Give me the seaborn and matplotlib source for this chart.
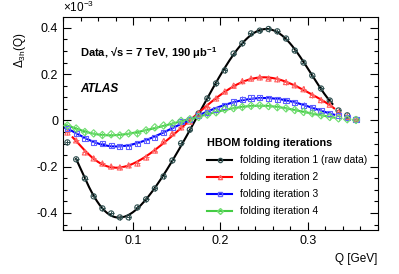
import numpy as np
import pandas as pd
import seaborn as sns
import matplotlib.pyplot as plt
from matplotlib.lines import Line2D
from matplotlib.ticker import MultipleLocator

# Q bins (GeV)
q_vals = [0.025, 0.035, 0.045, 0.055, 0.065, 0.075, 0.085, 0.095, 0.105, 0.115,
          0.125, 0.135, 0.145, 0.155, 0.165, 0.175, 0.185, 0.195, 0.205, 0.215,
          0.225, 0.235, 0.245, 0.255, 0.265, 0.275, 0.285, 0.295, 0.305, 0.315,
          0.325, 0.335, 0.345, 0.355]

# Delta_3h(Q) in units of 1e-3
iter1 = [-0.095, -0.168, -0.251, -0.328, -0.380, -0.402, -0.419, -0.419, -0.376, -0.341,
         -0.294, -0.242, -0.173, -0.099, -0.040, 0.030, 0.095, 0.160, 0.216, 0.289,
         0.333, 0.376, 0.388, 0.395, 0.385, 0.354, 0.302, 0.250, 0.194, 0.138,
         0.086, 0.043, 0.022, 0.004]
iter2 = [-0.052, -0.086, -0.138, -0.164, -0.186, -0.199, -0.203, -0.194, -0.186, -0.160,
         -0.130, -0.090, -0.056, -0.030, -0.005, 0.030, 0.060, 0.095, 0.125, 0.150,
         0.170, 0.181, 0.186, 0.181, 0.178, 0.166, 0.152, 0.135, 0.110, 0.088,
         0.068, 0.035, 0.015, 0.005]
iter3 = [-0.035, -0.056, -0.078, -0.095, -0.099, -0.108, -0.112, -0.112, -0.099, -0.086,
         -0.073, -0.052, -0.030, -0.005, 0.005, 0.020, 0.035, 0.048, 0.062, 0.080,
         0.092, 0.097, 0.099, 0.095, 0.091, 0.086, 0.078, 0.066, 0.056, 0.043,
         0.030, 0.020, 0.012, 0.005]
iter4 = [-0.022, -0.035, -0.050, -0.056, -0.063, -0.060, -0.065, -0.056, -0.056, -0.043,
         -0.030, -0.022, -0.013, -0.002, 0.005, 0.015, 0.025, 0.035, 0.048, 0.053,
         0.058, 0.063, 0.065, 0.062, 0.057, 0.052, 0.045, 0.037, 0.031, 0.022,
         0.015, 0.009, 0.005, 0.002]

labels = ["folding iteration 1 (raw data)", "folding iteration 2",
          "folding iteration 3", "folding iteration 4"]
line_colors = ["black", "#ff0000", "#0000ff", "#44cc44"]
marker_colors = ["#2f4f4f", "#ff6060", "#6060ff", "#70dd70"]
markers = ["o", "^", "s", "D"]
fit_ranges = [(0.035, 0.328), (0.031, 0.330), (0.020, 0.330), (0.020, 0.330)]
x_err = 0.003
y_err = 0.012

df = pd.DataFrame({"Q": q_vals, labels[0]: iter1, labels[1]: iter2,
                   labels[2]: iter3, labels[3]: iter4})

plt.rcParams["font.family"] = ["Liberation Sans", "DejaVu Sans"]
plt.rcParams["mathtext.fontset"] = "custom"
plt.rcParams["mathtext.rm"] = "Liberation Sans"
plt.rcParams["mathtext.it"] = "Liberation Sans:italic"
plt.rcParams["mathtext.bf"] = "Liberation Sans:bold"

fig = plt.figure(figsize=(3.99, 2.74), dpi=100)
ax = fig.add_axes([0.158, 0.161, 0.789, 0.777])

for lab, lc, mc, m, (lo, hi) in zip(labels, line_colors, marker_colors, markers, fit_ranges):
    sel = df[(df["Q"] >= 0.025) & (df["Q"] <= 0.335)]
    coef = np.polyfit(sel["Q"], sel[lab], 8)
    qq = np.linspace(lo, hi, 200)
    sns.lineplot(x=qq, y=np.polyval(coef, qq), color=lc, lw=1.5, ax=ax, zorder=2)
    ax.errorbar(df["Q"], df[lab], xerr=x_err, yerr=y_err, fmt="none",
                ecolor=mc, elinewidth=0.7, zorder=3)
    sns.scatterplot(x=df["Q"], y=df[lab], marker=m, s=14, facecolor="none",
                    edgecolor=mc, linewidth=0.8, ax=ax, zorder=4)

ax.set_xlim(0.02, 0.38)
ax.set_ylim(-0.473, 0.447)
ax.xaxis.set_major_locator(MultipleLocator(0.1))
ax.xaxis.set_minor_locator(MultipleLocator(0.02))
ax.yaxis.set_major_locator(MultipleLocator(0.2))
ax.yaxis.set_minor_locator(MultipleLocator(0.05))
ax.xaxis.set_major_formatter(plt.FuncFormatter(lambda v, p: f"{v:g}"))
ax.yaxis.set_major_formatter(plt.FuncFormatter(lambda v, p: f"{v:g}"))
ax.tick_params(which="both", direction="in", top=True, right=True, labelsize=9)
ax.tick_params(which="major", length=6, width=0.8)
ax.tick_params(which="minor", length=3, width=0.8)
for s in ax.spines.values():
    s.set_linewidth(0.8)

ax.set_xlabel("Q [GeV]", fontsize=8.5, loc="right")
ax.xaxis.set_label_coords(1.0, -0.11)
ax.set_ylabel(r"$\Delta_{\mathrm{3h}}$(Q)", fontsize=8.5, loc="top")
ax.yaxis.set_label_coords(-0.11, 0.93)

ax.text(0.0, 1.01, r"$\times$10$^{-3}$", transform=ax.transAxes, fontsize=8.5,
        ha="left", va="bottom")
ax.text(0.055, 0.83, "Data, √s = 7 TeV, 190 μb$^{\\mathbf{-1}}$",
        transform=ax.transAxes, fontsize=8, fontweight="bold", va="center")
ax.text(0.055, 0.66, "ATLAS", transform=ax.transAxes, fontsize=8.5,
        fontweight="bold", style="italic", va="center")

handles = [Line2D([], [], color=lc, lw=1.5, marker=m, ms=3, mfc="none", mec=mc)
           for lc, mc, m in zip(line_colors, marker_colors, markers)]
leg = ax.legend(handles, labels, title="HBOM folding iterations", loc="upper left",
                bbox_to_anchor=(0.445, 0.45), frameon=False, fontsize=7.4,
                title_fontproperties={"weight": "bold", "size": 7.8},
                handlelength=2.4, handletextpad=0.8, labelspacing=0.68, borderaxespad=0)
leg._legend_box.align = "left"

plt.savefig("out.png", dpi=100)
